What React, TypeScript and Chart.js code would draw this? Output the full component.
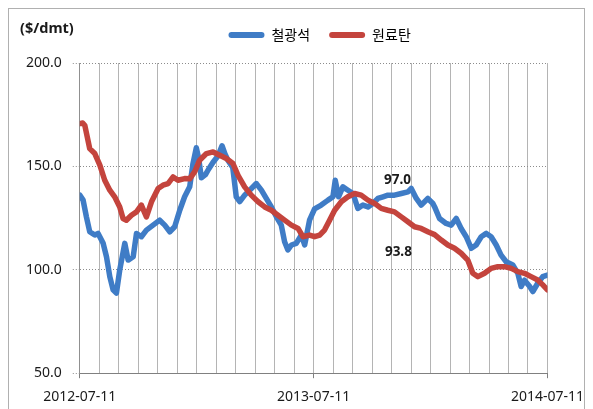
import React, { useEffect, useRef } from "react";
import { Chart, registerables } from "chart.js";

Chart.register(...registerables);

// x positions are months elapsed since 2012-07-11
const ironMonths = [0, 0.17, 0.34, 0.51, 0.77, 0.94, 1.2, 1.37, 1.54, 1.71, 1.88, 2.05, 2.31, 2.48, 2.74, 2.91, 3.16, 3.42, 3.76, 4.1, 4.36, 4.62, 4.87, 5.13, 5.38, 5.64, 5.81, 5.98, 6.1, 6.24, 6.45, 6.6, 6.84, 7.09, 7.3, 7.45, 7.6, 7.85, 8.03, 8.21, 8.46, 8.72, 9.06, 9.32, 9.57, 9.83, 10.09, 10.34, 10.51, 10.68, 10.86, 11.11, 11.37, 11.54, 11.79, 12.05, 12.39, 12.74, 12.99, 13.11, 13.28, 13.5, 13.76, 14.02, 14.27, 14.53, 14.79, 15.04, 15.3, 15.56, 15.81, 16.15, 16.5, 16.84, 17.01, 17.27, 17.52, 17.86, 18.12, 18.21, 18.46, 18.8, 19.06, 19.32, 19.57, 19.83, 20.09, 20.34, 20.6, 20.86, 21.11, 21.37, 21.62, 21.88, 22.22, 22.48, 22.65, 22.82, 23.08, 23.25, 23.5, 23.76, 24];
const ironValues = [136.1, 133.7, 125.6, 118.4, 116.8, 117.6, 112.8, 106.3, 96.7, 90.3, 88.7, 99.9, 112.8, 104.7, 106.3, 117.6, 116, 119.2, 121.6, 124, 121.6, 118.4, 120.8, 128.8, 135.3, 140.1, 151.4, 159, 154, 144.5, 146, 148.5, 152, 155, 160, 156, 153, 149.5, 135.3, 133, 136.1, 138.5, 141.7, 138.5, 134.5, 130.4, 125.6, 121.6, 113.6, 109.6, 112, 112.8, 116.8, 112, 124, 129.5, 131.3, 133.7, 135.3, 143.3, 135.3, 140.1, 138.5, 136.9, 129.7, 131.3, 130.4, 132.1, 134.5, 135.3, 136.1, 136.1, 136.9, 137.7, 139.3, 134.5, 131.3, 134.5, 132.1, 130.4, 124.8, 122.4, 121.6, 124.8, 120, 116, 110.4, 112, 116, 117.6, 116, 112, 107.1, 103.9, 102.3, 98.3, 91.9, 95, 92, 89.5, 93.5, 96.7, 97.5];

const coalMonths = [0, 0.15, 0.26, 0.51, 0.77, 1.03, 1.28, 1.54, 1.79, 2.05, 2.22, 2.39, 2.65, 2.91, 3.16, 3.42, 3.68, 4.02, 4.27, 4.53, 4.79, 5.04, 5.38, 5.64, 5.9, 6.15, 6.5, 6.84, 7.18, 7.52, 7.86, 8.12, 8.46, 8.8, 9.15, 9.49, 9.83, 10.17, 10.51, 10.86, 11.2, 11.45, 11.79, 12.05, 12.31, 12.56, 12.82, 13.08, 13.42, 13.76, 14.1, 14.44, 14.79, 15.13, 15.47, 15.81, 16.15, 16.5, 16.84, 17.18, 17.52, 17.86, 18.21, 18.55, 18.89, 19.23, 19.57, 19.91, 20.17, 20.43, 20.77, 21.11, 21.45, 21.79, 22.14, 22.48, 22.82, 23.16, 23.5, 23.76, 24];
const coalValues = [170.7, 171, 169.8, 158.6, 156.2, 150.6, 143.3, 138.5, 135.3, 130.4, 124.8, 124, 126.4, 128, 131.3, 125.6, 132.9, 139.3, 140.9, 141.7, 144.9, 143.3, 144.1, 144, 147.5, 153, 156.2, 157, 155.4, 153.8, 151.4, 145.7, 140.1, 136.1, 132.9, 130.4, 128.8, 126.4, 124, 121.6, 120, 116, 116.8, 116, 116.8, 119.2, 124, 128.8, 132.9, 135.3, 136.9, 136.1, 133.7, 132.1, 129.7, 128.8, 128, 125.6, 123.2, 120.8, 120, 118.4, 117, 114.4, 112, 110.4, 108, 104.7, 98.3, 96.7, 98.3, 100.7, 101.5, 101.5, 100.7, 99.1, 98.3, 96.7, 95.1, 92.7, 90.3];

const seriesNames = ["철광석", "원료탄"];
const xTickMonths = [0, 12, 24];
const xTickLabels = ["2012-07-11", "2013-07-11", "2014-07-11"];
const yTicks = [50, 100, 150, 200];
const unitLabel = "($/dmt)";
const noteTexts = ["97.0", "93.8"];
const noteMonths = [16.3, 16.35];
const noteValues = [143.3, 108.6];

const BLUE = "#3f7cc6";
const RED = "#c4443d";

const overlayPlugin = {
  id: "overlay",
  afterLayout(chart: any) {
    const lg = chart.legend;
    if (lg) {
      lg.left += 6;
      lg.right += 6;
    }
  },
  afterDatasetsDraw(chart: any) {
    const { ctx, scales } = chart;
    ctx.save();
    ctx.fillStyle = "#1a1a1a";
    ctx.font = 'bold 13.5px "Noto Sans", "DejaVu Sans", sans-serif';
    ctx.textAlign = "center";
    ctx.textBaseline = "middle";
    noteTexts.forEach((t, i) => {
      ctx.fillText(t, scales.x.getPixelForValue(noteMonths[i]), scales.y.getPixelForValue(noteValues[i]));
    });
    ctx.restore();
  },
  afterDraw(chart: any) {
    const { ctx } = chart;
    ctx.save();
    ctx.fillStyle = "#1a1a1a";
    ctx.font = 'bold 14.5px "Noto Sans", "DejaVu Sans", sans-serif';
    ctx.textAlign = "left";
    ctx.textBaseline = "middle";
    ctx.fillText(unitLabel, 11, 20);
    ctx.restore();
  },
};

export default function App() {
  const ref = useRef<HTMLCanvasElement | null>(null);
  useEffect(() => {
    if (!ref.current) return;
    const chart = new Chart(ref.current, {
      type: "line",
      data: {
        datasets: [
          {
            label: seriesNames[0],
            data: ironMonths.map((m, i) => ({ x: m, y: ironValues[i] })),
            borderColor: BLUE,
            backgroundColor: BLUE,
            borderWidth: 5.5,
            pointRadius: 0,
            borderJoinStyle: "round",
            borderCapStyle: "round",
            order: 1,
          },
          {
            label: seriesNames[1],
            data: coalMonths.map((m, i) => ({ x: m, y: coalValues[i] })),
            borderColor: RED,
            backgroundColor: RED,
            borderWidth: 5.5,
            pointRadius: 0,
            borderJoinStyle: "round",
            borderCapStyle: "round",
            order: 0,
          },
        ],
      },
      options: {
        animation: false,
        responsive: true,
        maintainAspectRatio: false,
        layout: { padding: { left: 6, right: 0, top: 0, bottom: -6 } },
        plugins: {
          tooltip: { enabled: false },
          legend: {
            display: true,
            position: "top",
            fullSize: false,
            labels: {
              boxWidth: 36,
              boxHeight: 6,
              padding: 19,
              color: "#111",
              font: { size: 14, family: '"Noto Sans CJK KR", "Noto Sans", sans-serif' },
              sort: (a: any, b: any) => a.datasetIndex - b.datasetIndex,
              generateLabels: (c: any) =>
                c.data.datasets.map((d: any, i: number) => ({
                  text: d.label,
                  fillStyle: d.borderColor,
                  strokeStyle: d.borderColor,
                  lineWidth: 0,
                  borderRadius: 3,
                  datasetIndex: i,
                  hidden: false,
                })),
              useBorderRadius: true,
            },
          },
          subtitle: {
            display: true,
            text: "",
            weight: 500,
            padding: 0,
            font: { size: 11, lineHeight: 1 },
          },
        },
        scales: {
          x: {
            type: "linear",
            min: 0,
            max: 24,
            afterFit: (s: any) => {
              s.paddingRight = Math.max(0, s.paddingRight - 10);
            },
            ticks: {
              stepSize: 1,
              autoSkip: false,
              maxRotation: 0,
              padding: 10,
              color: "#1a1a1a",
              font: { size: 14, family: '"Noto Sans", sans-serif' },
              callback: (v: any) => {
                const k = xTickMonths.indexOf(Number(v));
                return k >= 0 ? xTickLabels[k] : "";
              },
            },
            grid: {
              color: "#b4b4b4",
              lineWidth: 1,
              tickLength: 5,
              tickColor: (c: any) => (c.tick && xTickMonths.indexOf(c.tick.value) >= 0 ? "#808080" : "rgba(0,0,0,0)"),
            },
            border: { display: true, color: "#808080", width: 1 },
          },
          y: {
            type: "linear",
            min: 50,
            max: 200,
            afterBuildTicks: (s: any) => {
              s.ticks = yTicks.map((v) => ({ value: v }));
            },
            ticks: {
              padding: 11,
              color: "#1a1a1a",
              font: { size: 14, family: '"Noto Sans", sans-serif' },
              callback: (v: any) => Number(v).toFixed(1),
            },
            grid: {
              color: "#8c8c8c",
              lineWidth: 1,
              tickLength: 7,
              tickColor: "#8c8c8c",
              tickBorderDash: [1, 2],
            },
            border: { display: true, color: "#909090", width: 1, dash: [1, 2] },
          },
        },
      },
      plugins: [overlayPlugin],
    } as any);
    return () => chart.destroy();
  }, []);

  return (
    <div style={{ width: 575, height: 400, borderTop: "1px solid #b0b0b0", borderLeft: "1px solid #b0b0b0", borderRight: "1px solid #b0b0b0", background: "#fff" }}>
      <div style={{ position: "relative", width: 575, height: 400 }}>
        <canvas ref={ref} />
      </div>
    </div>
  );
}
